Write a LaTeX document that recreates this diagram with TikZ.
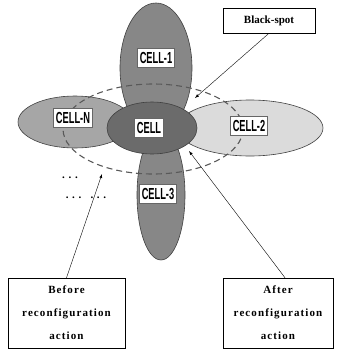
\documentclass[tikz,border=0pt]{standalone}
\usepackage{fontspec}
\setmainfont{Liberation Serif}
\newfontfamily\boxfont{Liberation Serif}[LetterSpace=10]
\newfontfamily\cellfont{Liberation Sans}
\begin{document}
\begin{tikzpicture}[x=1pt,y=-1pt,
  cellshape/.style={draw=black!75, line width=0.6pt},
  cellbox/.style={fill=white, draw=black!60, line width=0.5pt, inner sep=2.5pt, minimum height=19pt,
    font=\cellfont\bfseries\fontsize{16}{16}\selectfont},
  textbox/.style={draw=black, line width=0.5pt, fill=white, align=center},
  arr/.style={-latex, line width=0.4pt}
]
\useasboundingbox (0,0) rectangle (340,354);
% cells
\fill[black!47] (156,68) ellipse [x radius=36, y radius=65];
\draw[cellshape] (156,68) ellipse [x radius=36, y radius=65];
\fill[black!47] (161,195) ellipse [x radius=24, y radius=65];
\draw[cellshape] (161,195) ellipse [x radius=24, y radius=65];
\fill[black!35] (75,122) ellipse [x radius=57, y radius=26];
\draw[cellshape] (75,122) ellipse [x radius=57, y radius=26];
\fill[black!14] (250,128) ellipse [x radius=73, y radius=28];
\draw[cellshape] (250,128) ellipse [x radius=73, y radius=28];
\fill[black!58] (152,128) ellipse [x radius=45, y radius=26];
\draw[cellshape] (152,128) ellipse [x radius=45, y radius=26];
% dashed coverage
\draw[black!65, dashed, dash pattern=on 6pt off 4pt, line width=1.1pt] (153,129) ellipse [x radius=90, y radius=45];
% labels
\node[cellbox] (c1) at (156,58) {\scalebox{0.58}[1]{CELL-1}};
\node[cellbox] (cn) at (73,118) {\scalebox{0.58}[1]{CELL-N}};
\node[cellbox] (c0) at (149,128) {\scalebox{0.58}[1]{CELL}};
\node[cellbox] (c2) at (249,126) {\scalebox{0.58}[1]{CELL-2}};
\node[cellbox] (c3) at (158,194) {\scalebox{0.58}[1]{CELL-3}};
% dots
\node[font=\bfseries\fontsize{11}{11}\selectfont] (d1) at (70,178) {. . .};
\node[font=\bfseries\fontsize{11}{11}\selectfont] (d2) at (86,198) {. . . \ \ . . .};
% text boxes
\node[textbox, minimum width=92pt, minimum height=25pt, font=\bfseries\fontsize{11}{11}\selectfont] (bs) at (269,20.5) {Black-spot};
\node[textbox, minimum width=117pt, minimum height=70pt, font=\boxfont\bfseries\fontsize{11}{23}\selectfont] (bf) at (66.5,313) {Before\\reconfiguration\\action};
\node[textbox, minimum width=110pt, minimum height=70pt, font=\boxfont\bfseries\fontsize{11}{23}\selectfont] (af) at (278,313) {After\\reconfiguration\\action};
% arrows
\coordinate (tbs) at (195,98);
\coordinate (tbf) at (102,174);
\coordinate (taf) at (189,151);
\draw[arr] (bs.south) -- (tbs);
\draw[arr] (bf.north) -- (tbf);
\draw[arr] ([xshift=7pt]af.north) -- (taf);
\end{tikzpicture}
\end{document}
